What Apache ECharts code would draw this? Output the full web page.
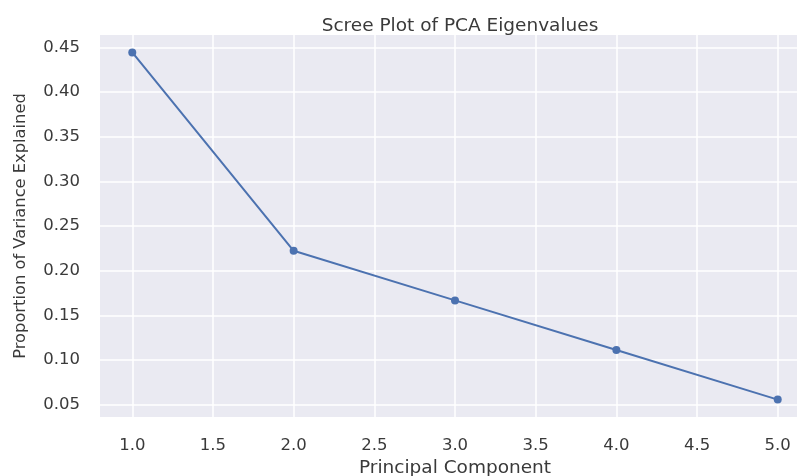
<!DOCTYPE html>
<html>
<head>
<meta charset="utf-8">
<script src="https://cdn.jsdelivr.net/npm/echarts@6/dist/echarts.min.js"></script>
<style>
  html, body { margin: 0; padding: 0; background: #ffffff; overflow: hidden; }
  #chart { width: 797px; height: 476px; }
</style>
</head>
<body>
<div id="chart"></div>
<script>
const components = [1, 2, 3, 4, 5];
const varianceExplained = [0.4444, 0.2222, 0.1667, 0.1111, 0.0556];
const xTickValues = [1.0, 1.5, 2.0, 2.5, 3.0, 3.5, 4.0, 4.5, 5.0];
const yTickValues = [0.05, 0.10, 0.15, 0.20, 0.25, 0.30, 0.35, 0.40, 0.45];

const titleText = 'Scree Plot of PCA Eigenvalues';
const xName = 'Principal Component';
const yName = 'Proportion of Variance Explained';

const FONT = 'DejaVu Sans';
const TEXT = '#3a3a3a';

const gridLineData = [
  ...yTickValues.map(v => ({ yAxis: v })),
  ...xTickValues.map(v => ({ xAxis: v }))
];

const chart = echarts.init(document.getElementById('chart'), null, { renderer: 'canvas' });
chart.setOption({
  animation: false,
  backgroundColor: '#ffffff',
  title: {
    text: titleText,
    left: 455,
    top: 12,
    textAlign: 'center',
    textStyle: { fontFamily: FONT, fontSize: 18.5, fontWeight: 'normal', color: TEXT }
  },
  grid: {
    left: 100, width: 710, top: 35, bottom: 59,
    containLabel: false,
    outerBoundsMode: 'none',
    show: true, backgroundColor: '#EAEAF2', borderWidth: 0
  },
  xAxis: {
    type: 'value',
    min: 0.8, max: 5.2,
    name: xName,
    nameLocation: 'middle',
    nameGap: 41,
    nameTextStyle: { fontFamily: FONT, fontSize: 18.5, color: TEXT },
    axisLine: { show: false },
    axisTick: { show: false },
    splitLine: { show: false },
    axisLabel: {
      customValues: xTickValues,
      formatter: v => v.toFixed(1),
      fontFamily: FONT, fontSize: 16.5, color: TEXT, margin: 20
    }
  },
  yAxis: {
    type: 'value',
    min: 0.0361, max: 0.4639,
    name: yName,
    nameLocation: 'middle',
    nameGap: 71,
    nameTextStyle: { fontFamily: FONT, fontSize: 16.3, color: TEXT },
    axisLine: { show: false },
    axisTick: { show: false },
    splitLine: { show: false },
    axisLabel: {
      customValues: yTickValues,
      formatter: v => v.toFixed(2),
      fontFamily: FONT, fontSize: 16.5, color: TEXT, margin: 20
    }
  },
  series: [
    {
      type: 'line',
      name: 'grid',
      data: [],
      z: 1,
      silent: true,
      markLine: {
        silent: true,
        z: 1,
        symbol: 'none',
        label: { show: false },
        lineStyle: { color: '#ffffff', type: 'solid', width: 1.5 },
        data: gridLineData
      }
    },
    {
      type: 'line',
      name: 'Variance',
      z: 3,
      data: components.map((c, i) => [c, varianceExplained[i]]),
      symbol: 'circle',
      symbolSize: 8,
      lineStyle: { color: '#4C72B0', width: 2 },
      itemStyle: { color: '#4C72B0' }
    }
  ]
});
</script>
</body>
</html>
